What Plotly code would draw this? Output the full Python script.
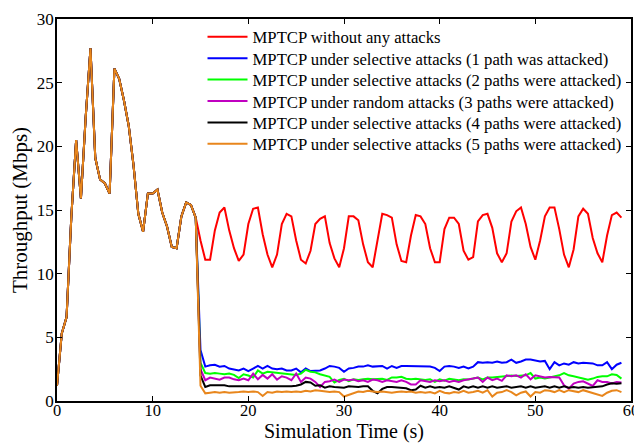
import plotly.graph_objects as go

# Time axis (s), sampled every 0.5 s from 0 to 59 s
time_s = [i * 0.5 for i in range(119)]

# Throughput shared by all scenarios before the attack starts (0 .. 14.5 s)
shared_start = [1.2, 5.3, 6.6, 14.5, 20.5, 15.9, 22.3, 27.7, 19.1, 17.4,
                17.1, 16.3, 26.1, 25.3, 23.6, 21.6, 18.5, 14.7, 13.3, 16.3,
                16.3, 16.6, 14.8, 13.7, 12.1, 12.0, 14.5, 15.6, 15.4, 14.4]

# Values from 15.0 s to 59.0 s for each scenario
no_attack = [12.6, 11.1, 11.1, 13.4, 14.8, 15.2, 13.4, 12.0, 11.0, 11.5,
             13.9, 15.1, 15.2, 13.1, 11.5, 10.5, 11.5, 13.9, 14.7, 14.5,
             12.6, 11.1, 10.8, 11.8, 13.9, 14.3, 14.5, 12.4, 11.2, 10.5,
             12.0, 14.5, 14.5, 14.2, 12.3, 10.9, 10.5, 12.6, 14.7, 14.6,
             14.4, 12.3, 11.0, 10.9, 13.0, 14.6, 14.5, 13.9, 12.0, 10.9,
             10.9, 13.5, 14.4, 14.4, 13.9, 11.8, 11.1, 11.3, 14.1, 14.6,
             14.7, 13.6, 11.6, 10.9, 11.6, 14.1, 14.9, 15.2, 13.9, 12.1,
             11.1, 12.6, 14.5, 15.2, 15.2, 13.5, 11.5, 10.5, 11.9, 14.5,
             15.1, 14.7, 12.8, 11.6, 10.9, 13.0, 14.6, 14.8, 14.4]

sel_1path = [4.0, 2.7, 2.8, 2.85, 2.7, 2.75, 2.55, 2.5, 2.4, 2.55,
             2.35, 2.55, 2.75, 2.55, 2.75, 2.55, 2.5, 2.55, 2.4, 2.4,
             2.55, 2.25, 2.55, 2.35, 2.4, 2.4, 2.55, 2.75, 2.7, 2.6,
             2.3, 2.55, 2.6, 2.7, 2.7, 2.8, 2.7, 2.7, 2.75, 2.55,
             2.75, 2.6, 2.75, 2.75, 2.75, 2.7, 2.7, 2.7, 2.7, 2.6,
             2.35, 2.7, 2.75, 2.7, 2.6, 2.7, 2.55, 2.7, 3.05, 3.0,
             3.05, 3.0, 3.1, 3.0, 3.05, 3.25, 3.0, 3.1, 3.25, 3.25,
             3.15, 3.1, 3.15, 2.5, 3.05, 2.8, 2.95, 2.85, 3.05, 2.95,
             3.0, 2.95, 2.95, 2.8, 2.8, 3.05, 2.5, 2.85, 3.0]

sel_2paths = [3.0, 2.2, 2.15, 2.2, 2.15, 2.1, 2.15, 2.05, 1.8, 2.1,
              2.0, 1.85, 2.4, 2.15, 2.3, 2.25, 2.2, 2.2, 2.15, 2.1,
              2.05, 2.15, 2.45, 2.3, 2.25, 2.1, 2.0, 1.9, 1.45, 1.65,
              1.75, 1.55, 1.7, 1.65, 1.7, 1.75, 1.7, 1.7, 1.75, 1.65,
              1.85, 1.85, 1.9, 1.75, 1.7, 1.75, 1.7, 1.65, 1.7, 1.5,
              1.7, 1.6, 1.75, 1.68, 1.63, 1.7, 1.68, 1.76, 1.84, 1.7,
              1.84, 1.84, 1.89, 1.92, 1.97, 2.0, 1.97, 1.97, 2.02, 2.2,
              1.76, 1.84, 1.76, 1.84, 1.94, 2.02, 2.2, 2.02, 1.94, 1.84,
              1.76, 1.68, 1.76, 1.89, 1.94, 1.94, 2.1, 2.05, 1.76]

rand_3paths = [2.5, 1.63, 1.84, 1.76, 1.68, 1.84, 1.84, 1.7, 1.63, 1.76,
               1.63, 2.15, 1.7, 2.05, 1.76, 2.1, 1.68, 1.94, 1.84, 1.63,
               2.15, 1.5, 1.84, 1.76, 1.5, 1.1, 1.5, 1.55, 1.68, 1.5,
               1.68, 1.63, 1.68, 1.55, 1.63, 1.5, 1.68, 1.63, 1.5, 1.63,
               1.55, 1.5, 1.63, 1.5, 1.3, 1.3, 1.63, 1.55, 1.5, 1.63,
               1.55, 1.63, 1.5, 1.58, 1.5, 1.63, 1.68, 1.76, 1.84, 1.5,
               1.84, 1.63, 1.76, 1.58, 2.02, 1.94, 2.02, 1.84, 2.1, 1.7,
               2.02, 1.94, 1.84, 1.89, 1.84, 1.84, 1.24, 0.97, 1.37, 1.5,
               1.55, 1.37, 1.18, 1.63, 1.5, 1.5, 1.37, 1.5, 1.45]

sel_4paths = [2.0, 1.1, 1.24, 1.24, 1.2, 1.24, 1.15, 1.15, 1.1, 1.15,
              1.1, 1.15, 1.1, 1.15, 1.1, 1.15, 1.1, 1.15, 1.1, 1.15,
              1.2, 1.3, 1.5, 1.45, 1.2, 1.24, 1.05, 1.15, 1.1, 1.1,
              1.05, 1.15, 1.1, 1.1, 1.15, 1.15, 0.8, 0.6, 0.95, 1.1,
              1.1, 1.05, 1.05, 1.0, 0.85, 0.9, 1.2, 1.05, 1.15, 1.05,
              1.1, 1.05, 1.15, 1.05, 0.9, 1.15, 1.05, 1.15, 1.05, 1.15,
              1.05, 1.15, 1.05, 1.1, 1.15, 1.05, 1.1, 1.15, 1.05, 1.15,
              1.05, 1.1, 1.15, 1.05, 1.15, 1.05, 1.15, 1.05, 1.1, 1.05,
              1.1, 1.05, 1.1, 1.1, 1.15, 1.3, 1.4, 1.35, 1.4]

sel_5paths = [1.2, 0.6, 0.65, 0.7, 0.65, 0.7, 0.65, 0.65, 0.7, 0.75,
              0.7, 0.75, 0.7, 0.4, 0.7, 0.65, 0.75, 0.7, 0.75, 0.7,
              0.75, 0.7, 0.8, 0.75, 0.85, 0.8, 0.75, 0.7, 0.75, 0.7,
              0.35, 0.5, 0.6, 0.75, 0.7, 0.8, 0.75, 0.7, 0.75, 0.7,
              0.65, 0.7, 0.75, 0.7, 0.75, 0.65, 0.7, 0.65, 0.7, 0.6,
              0.8, 0.65, 0.6, 0.7, 0.65, 0.8, 0.65, 0.7, 0.8, 0.65,
              0.85, 0.35, 0.65, 0.7, 0.85, 0.7, 0.45, 0.65, 0.75, 0.35,
              0.7, 0.65, 0.85, 0.8, 0.7, 0.85, 0.7, 0.85, 0.8, 0.7,
              0.85, 0.75, 0.6, 0.5, 0.4, 0.65, 0.8, 0.85, 0.7]

series_names = [
    "MPTCP without any attacks",
    "MPTCP under selective attacks (1 path was attacked)",
    "MPTCP under selective attacks (2 paths were attacked)",
    "MPTCP under random attacks (3 paths were attacked)",
    "MPTCP under selective attacks (4 paths were attacked)",
    "MPTCP under selective attacks (5 paths were attacked)",
]
series_tails = [no_attack, sel_1path, sel_2paths, rand_3paths, sel_4paths, sel_5paths]
series_colors = ["#FF0000", "#0000FF", "#00FF00", "#C000C0", "#000000", "#E8861C"]

x_ticks = [0, 10, 20, 30, 40, 50, 60]
y_ticks = [0, 5, 10, 15, 20, 25, 30]

FONT = "Liberation Serif, Times New Roman, serif"

# one single-entry legend per series so rows sit at the reference spacing
legend_ids = ["legend", "legend2", "legend3", "legend4", "legend5", "legend6"]
legend_row_y = [0.953, 0.897, 0.841, 0.785, 0.729, 0.673]

fig = go.Figure()
for name, tail, color, lid in zip(series_names, series_tails, series_colors, legend_ids):
    fig.add_trace(go.Scatter(
        x=time_s, y=shared_start + tail, mode="lines", name=name,
        line=dict(color=color, width=2), legend=lid,
    ))

layout_legends = {}
for lid, ly in zip(legend_ids, legend_row_y):
    layout_legends[lid] = dict(
        x=0.2535, y=ly, xanchor="left", yanchor="middle",
        bgcolor="rgba(0,0,0,0)", borderwidth=0,
        font=dict(family=FONT, size=16.7, color="black"),
        itemwidth=40,
    )

# the page body adds an 8 px offset, so the figure is 8 px smaller
fig.update_layout(
    width=634, height=435,
    margin=dict(l=49, r=11, t=11, b=42),
    paper_bgcolor="white", plot_bgcolor="white",
    font=dict(family=FONT, size=16, color="black"),
    showlegend=True,
    **layout_legends,
)
axis_common = dict(
    showgrid=False, zeroline=False, showline=True, linecolor="black",
    linewidth=1.5, mirror="ticks", ticks="inside", ticklen=5,
    tickcolor="black", automargin=False,
)
fig.update_xaxes(range=[0, 60], tickvals=x_ticks, ticklabelstandoff=-7,
                 tickfont=dict(family=FONT, size=16.5, color="black"),
                 title=dict(text="Simulation Time (s)", standoff=12,
                            font=dict(family=FONT, size=20)),
                 **axis_common)
fig.update_yaxes(range=[0, 30], tickvals=y_ticks, ticklabelstandoff=-2,
                 tickfont=dict(family=FONT, size=17, color="black"),
                 title=dict(text="Throughput (Mbps)", standoff=9,
                            font=dict(family=FONT, size=21)),
                 **axis_common)

fig.write_html("out.html")
